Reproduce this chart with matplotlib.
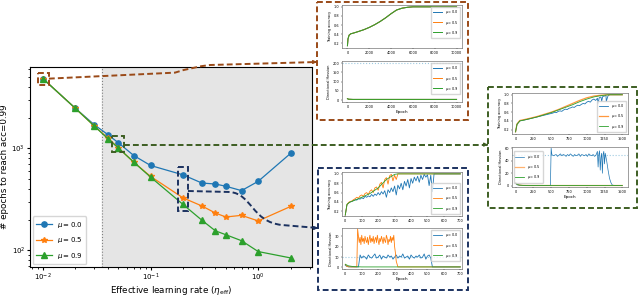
import matplotlib
matplotlib.use("Agg")
import matplotlib.pyplot as plt
import numpy as np
from matplotlib.patches import Rectangle, PathPatch
from matplotlib.path import Path

# main panel data
lr = [0.01, 0.02, 0.03, 0.04, 0.05, 0.07, 0.1, 0.2, 0.3, 0.4, 0.5, 0.7, 1.0, 2.0]
ep_mu00 = [4850, 2480, 1710, 1370, 1140, 850, 680, 550, 457, 447, 425, 385, 475, 894]
ep_mu05 = [4850, 2480, 1660, 1270, 1016, 731, 531, 327, 272, 232, 212, 220, 194, 269]
ep_mu09 = [4850, 2480, 1660, 1250, 1016, 731, 523, 282, 197, 155, 142, 124, 97, 84]
lr_crit = 0.0352
mu_labels = [r"$\mu = 0.0$", r"$\mu = 0.5$", r"$\mu = 0.9$"]

# inset at lr = 0.01 (all momenta overlap)
a_ep = [0, 50, 150, 300, 600, 1000, 1500, 2000, 2500, 3000, 3500, 4000, 4500, 5000, 5500, 6000, 8000, 10000]
a_acc = [0.15, 0.30, 0.38, 0.41, 0.43, 0.46, 0.50, 0.55, 0.61, 0.68, 0.76, 0.85, 0.93, 0.97, 0.99, 1.0, 1.0, 1.0]
a_hep = [0, 100, 500, 10000]
a_hess = [8, 5, 4, 4]
a_thr = 200

# inset at lr = 0.05
b_ep_s = [0, 20, 60, 120, 200, 300, 400, 500, 600, 700, 800, 900, 1000, 1100, 1200, 1300, 1500]
b_acc09 = [0.15, 0.32, 0.40, 0.42, 0.45, 0.49, 0.54, 0.59, 0.65, 0.71, 0.77, 0.84, 0.90, 0.95, 0.98, 1.0, 1.0]
b_acc05 = [0.15, 0.33, 0.41, 0.43, 0.46, 0.50, 0.55, 0.60, 0.66, 0.73, 0.80, 0.87, 0.93, 0.97, 0.99, 1.0, 1.0]
b_ep0 = [0, 20, 60, 120, 200, 300, 400, 500, 525, 550, 575, 600, 625, 650, 675, 700, 725, 750, 775, 800,
         825, 850, 875, 900, 925, 950, 975, 1000, 1025, 1050, 1075, 1100, 1125, 1150, 1160, 1175, 1200,
         1210, 1225, 1250, 1270, 1275, 1300, 1325, 1350, 1500]
b_acc00 = [0.15, 0.32, 0.40, 0.42, 0.45, 0.49, 0.53, 0.57, 0.58, 0.60, 0.59, 0.62, 0.63, 0.62, 0.65, 0.67,
           0.66, 0.69, 0.70, 0.72, 0.71, 0.74, 0.76, 0.75, 0.78, 0.80, 0.79, 0.83, 0.85, 0.83, 0.88, 0.90,
           0.87, 0.92, 0.80, 0.93, 0.95, 0.85, 0.96, 0.97, 0.99, 0.85, 0.98, 1.0, 1.0, 1.0]
b_hep_s = [0, 20, 50, 100, 200, 1500]
b_hess_s = [5, 2.5, 1.2, 0.6, 0.4, 0.4]
b_hep0 = [0, 20, 50, 100, 200, 300, 400, 490, 500, 510, 530, 550, 570, 590, 610, 630, 650, 670, 690, 710,
          730, 750, 770, 790, 810, 830, 850, 870, 890, 910, 930, 950, 970, 990, 1010, 1030, 1050, 1070,
          1090, 1110, 1130, 1150, 1160, 1170, 1180, 1190, 1200, 1210, 1220, 1230, 1240, 1250, 1260, 1280,
          1300, 1320, 1340, 1360, 1400, 1500]
b_hess0 = [4, 1.5, 0.8, 0.4, 0.3, 0.3, 0.3, 0.3, 60, 50, 48, 49, 50, 47, 49, 51, 48, 50, 49, 47,
           50, 48, 51, 49, 47, 50, 48, 49, 51, 47, 50, 49, 48, 50, 47, 51, 49, 48, 50, 47,
           49, 55, 30, 50, 56, 25, 45, 52, 20, 50, 55, 35, 52, 40,
           25, 12, 5, 1, 0.4, 0.4]
b_thr = 50

# inset at lr = 0.2
c_ep09 = [0, 10, 30, 60, 100, 150, 200, 250, 300, 320, 700]
c_acc09 = [0.12, 0.35, 0.40, 0.44, 0.50, 0.58, 0.70, 0.88, 0.99, 1.0, 1.0]
c_ep05 = list(range(0, 340, 10)) + [700]
c_acc05 = [0.12, 0.34, 0.39, 0.41, 0.42, 0.45, 0.47, 0.50, 0.48, 0.53, 0.55, 0.52, 0.58, 0.60, 0.56, 0.63,
           0.66, 0.60, 0.70, 0.72, 0.65, 0.78, 0.82, 0.70, 0.88, 0.92, 0.78, 0.96, 0.99, 0.85, 0.97, 0.88,
           1.0, 1.0, 1.0]
c_ep00 = list(range(0, 560, 10)) + [700]
c_acc00 = [0.12, 0.33, 0.38, 0.40, 0.41, 0.43, 0.45, 0.44, 0.47, 0.46, 0.49, 0.47, 0.52, 0.50, 0.53, 0.51,
           0.56, 0.52, 0.57, 0.54, 0.60, 0.55, 0.62, 0.57, 0.64, 0.50, 0.66, 0.60, 0.70, 0.62, 0.74, 0.55,
           0.76, 0.68, 0.80, 0.66, 0.84, 0.74, 0.88, 0.70, 0.90, 0.80, 0.93, 0.85, 0.95, 0.82, 0.97, 0.88,
           0.99, 0.93, 0.98, 0.75, 0.97, 0.62, 1.0, 1.0, 1.0]
c_hep09 = [0, 20, 50, 100, 700]
c_hess09 = [3, 1.5, 0.8, 0.5, 0.5]
c_hep05 = [0, 10, 20, 40, 60, 70] + list(range(75, 315, 5)) + [320, 700]
c_hess05 = [3, 1.0, 0.6, 0.5, 0.5, 0.5,
            37, 30, 24, 29, 22, 31, 25, 28, 23, 30, 26, 24, 29, 22, 27, 31, 24, 28, 25, 30, 23, 27, 29, 24,
            31, 26, 22, 28, 25, 30, 27, 23, 29, 26, 24, 31, 28, 22, 27, 25, 30, 24, 29, 26, 31, 20, 14, 6,
            0.5, 0.5]
c_hep00 = [0, 10, 20, 40, 60, 80] + list(range(90, 530, 10)) + [530, 700]
c_hess00 = [2, 1.0, 0.6, 0.5, 0.5, 0.5,
            12, 9, 11, 10, 8, 12, 10, 9, 11, 13, 9, 10, 12, 8, 11, 10, 9, 12, 10, 11, 8, 10,
            12, 9, 11, 10, 13, 9, 10, 11, 8, 12, 10, 9, 11, 10, 12, 9, 10, 13, 8, 11, 12, 9,
            0.5, 0.5]
c_thr = 10

W, H = 640, 297
C0, C1, C2 = "#1f77b4", "#ff7f0e", "#2ca02c"
BROWN, GREEN, NAVY = "#9a4a18", "#3d5e22", "#1c3260"
DASH = (0, (3, 1.6))


def px(l, t, w, h):
    return [l / W, 1 - (t + h) / H, w / W, h / H]


fig = plt.figure(figsize=(6.4, 2.97), dpi=100)
ax = fig.add_axes(px(30, 67, 282, 200))
ax.set_xscale("log")
ax.set_yscale("log")
ax.set_xlim(10 ** -2.12, 10 ** 0.50)
ax.set_ylim(10 ** 1.835, 10 ** 3.80)
ax.axvspan(lr_crit, 10 ** 0.5, color="#e5e5e5", zorder=0)
ax.axvline(lr_crit, color="gray", ls=":", lw=0.8, zorder=1)
ax.plot(lr, ep_mu00, "-o", color=C0, lw=0.9, ms=3.8, label=mu_labels[0])
ax.plot(lr, ep_mu05, "-*", color=C1, lw=0.9, ms=3.8, label=mu_labels[1])
ax.plot(lr, ep_mu09, "-^", color=C2, lw=0.9, ms=3.8, label=mu_labels[2])
ax.legend(loc="lower left", fontsize=5, handlelength=2.2, borderpad=0.5, labelspacing=0.8,
          borderaxespad=0.4)
ax.set_xlabel(r"Effective learning rate ($\eta_{\rm eff}$)", fontsize=6.3, labelpad=0.5)
ax.set_ylabel("# epochs to reach acc=0.99", fontsize=6.3, labelpad=2)
ax.tick_params(labelsize=5, length=2, pad=1.5)
ax.tick_params(which="minor", length=1.2)
for s in ax.spines.values():
    s.set_linewidth(0.8)


def inset(rect, ylabel, xticks, yticks, xlim, ylim, xlabel=None):
    a = fig.add_axes(px(*rect))
    a.set_xlim(*xlim)
    a.set_ylim(*ylim)
    a.set_xticks(xticks)
    a.set_yticks(yticks)
    a.tick_params(labelsize=2.5, length=1, width=0.3, pad=1)
    a.set_ylabel(ylabel, fontsize=2.5, labelpad=1)
    if xlabel:
        a.set_xlabel(xlabel, fontsize=3, labelpad=1)
    for s in a.spines.values():
        s.set_linewidth(0.4)
        s.set_color("#555555")
    return a


def leg(a, loc):
    a.legend(loc=loc, fontsize=2.5, handlelength=2.5, borderpad=0.5, labelspacing=0.6, framealpha=0.8)


# inset a (lr = 0.01)
t = inset((342, 5, 120, 43), "Training accuracy", range(0, 10001, 2000), [0.2, 0.4, 0.6, 0.8, 1.0],
          (-500, 10500), (0.1, 1.04))
for c, lab in zip([C0, C1, C2], mu_labels):
    t.plot(a_ep, a_acc, color=c, lw=0.7, label=lab)
leg(t, "upper right")
b = inset((342, 61, 120, 41), "Directional Hessian", range(0, 10001, 2000), [0, 50, 100, 150, 200],
          (-500, 10500), (-10, 212), "Epoch")
b.axhline(a_thr, color="#9ecae1", ls=":", lw=0.8)
for c, lab in zip([C0, C1, C2], mu_labels):
    b.plot(a_hep, a_hess, color=c, lw=0.7, label=lab)
leg(b, "upper right")

# inset b (lr = 0.05)
t = inset((512, 93, 116, 41), "Training accuracy", range(0, 1501, 250), [0.2, 0.4, 0.6, 0.8, 1.0],
          (-50, 1580), (0.1, 1.04))
t.plot(b_ep0, b_acc00, color=C0, lw=0.6, label=mu_labels[0])
t.plot(b_ep_s, b_acc05, color=C1, lw=0.9, alpha=0.8, label=mu_labels[1])
t.plot(b_ep_s, b_acc09, color=C2, lw=0.6, label=mu_labels[2])
leg(t, "lower right")
b = inset((512, 147, 116, 40), "Directional Hessian", range(0, 1501, 250), [0, 20, 40, 60],
          (-50, 1580), (-2, 62), "Epoch")
b.axhline(b_thr, color="#9ecae1", ls=":", lw=0.8)
b.plot(b_hep0, b_hess0, color=C0, lw=0.5, label=mu_labels[0])
b.plot(b_hep_s, b_hess_s, color=C1, lw=0.9, alpha=0.6, label=mu_labels[1])
b.plot(b_hep_s, b_hess_s, color=C2, lw=0.6, label=mu_labels[2])
leg(b, "center left")

# inset c (lr = 0.2)
t = inset((342, 172, 120, 44), "Training accuracy", range(0, 701, 100), [0.2, 0.4, 0.6, 0.8, 1.0],
          (-20, 710), (0.1, 1.04))
t.plot(c_ep00, c_acc00, color=C0, lw=0.6, label=mu_labels[0])
t.plot(c_ep05, c_acc05, color=C1, lw=0.6, label=mu_labels[1])
t.plot(c_ep09, c_acc09, color=C2, lw=0.6, label=mu_labels[2])
leg(t, "lower right")
b = inset((342, 228, 120, 41), "Directional Hessian", range(0, 701, 100), [0, 10, 20, 30],
          (-20, 710), (-1.5, 38), "Epoch")
b.axhline(c_thr, color="#9ecae1", ls=":", lw=0.8)
b.plot(c_hep00, c_hess00, color=C0, lw=0.6, label=mu_labels[0])
b.plot(c_hep05, c_hess05, color=C1, lw=0.6, label=mu_labels[1])
b.plot(c_hep09, c_hess09, color=C2, lw=0.6, label=mu_labels[2])
leg(b, "upper right")

# overlay in pixel coordinates for boxes and connectors
ov = fig.add_axes([0, 0, 1, 1], zorder=10)
ov.set_xlim(0, W)
ov.set_ylim(H, 0)
ov.axis("off")
ov.patch.set_alpha(0)


def topx(x, y):
    dx, dy = ax.transData.transform((x, y))
    return dx, H - dy


def dbox(x0, y0, x1, y1, c):
    ov.add_patch(Rectangle((x0, y0), x1 - x0, y1 - y0, fill=False, ec=c, lw=1.4, ls=DASH))


def conn(verts, codes, c):
    ov.add_patch(PathPatch(Path(verts, codes), fill=False, ec=c, lw=1.4, ls=DASH))
    ov.annotate("", xy=verts[-1], xytext=(verts[-1][0] - 4, verts[-1][1]),
                arrowprops=dict(arrowstyle="-|>", color=c, lw=1.0, mutation_scale=5))


# inset frames
dbox(317, 2, 468, 120, BROWN)
dbox(488, 87, 637, 208, GREEN)
dbox(318, 168, 468, 290, NAVY)

# highlighted points
bx, by = topx(lr[0], ep_mu00[0])
dbox(bx - 5, by - 6, bx + 6, by + 6, BROWN)
conn([(bx + 6, by), (175, by - 6), (192, 67), (210, 65), (317, 62)],
     [Path.MOVETO, Path.LINETO, Path.CURVE3, Path.CURVE3, Path.LINETO], BROWN)

gx, gy = topx(lr[4], ep_mu00[4])
dbox(gx - 6, gy - 7, gx + 6, gy + 9, GREEN)
conn([(gx + 6, gy + 2), (488, gy + 2)], [Path.MOVETO, Path.LINETO], GREEN)

nx, ny0 = topx(lr[7], ep_mu00[7])
_, ny1 = topx(lr[7], ep_mu09[7])
dbox(nx - 5, ny0 - 8, nx + 5, ny1 + 7, NAVY)
conn([(nx + 5, 191), (230, 192), (252, 194), (252, 222), (282, 225), (318, 228)],
     [Path.MOVETO, Path.LINETO, Path.CURVE4, Path.CURVE4, Path.CURVE4, Path.LINETO], NAVY)

fig.savefig("out.png", dpi=100)
